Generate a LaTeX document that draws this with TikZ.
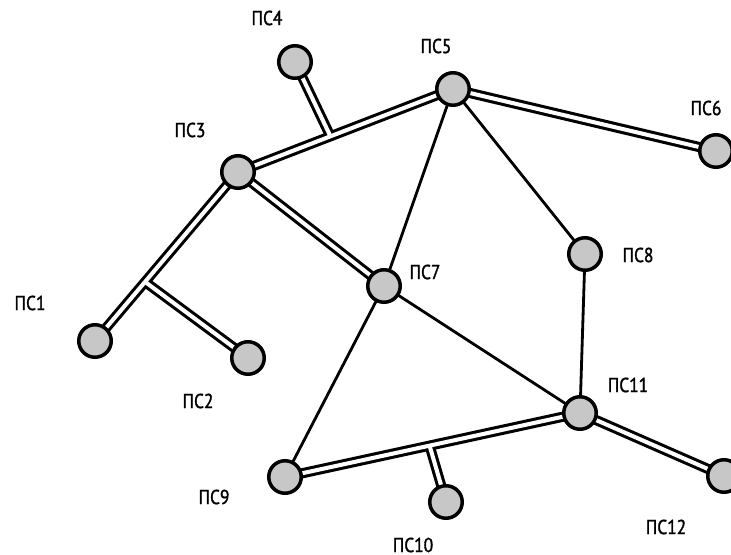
\documentclass[tikz,border=0pt]{standalone}
\usepackage{fontspec}
\setmainfont{PT Sans}[FakeStretch=0.86, FakeBold=1.5]
\usetikzlibrary{calc}

\tikzset{
  ps/.style={circle, draw=black, line width=2pt, fill=black!22, minimum size=18.5pt, inner sep=0pt},
  lbl/.style={font=\fontsize{11.5}{13}\selectfont, inner sep=0pt},
  link/.style={line width=1.6pt},
  cableout/.style={line width=5.8pt, black},
  cablein/.style={line width=2.3pt, white}
}

\begin{document}
\begin{tikzpicture}[x=0.02cm, y=-0.02cm]
  \useasboundingbox (0,0) rectangle (731,555);

  % substations
  \coordinate (p1) at (95,341);
  \coordinate (p2) at (248,358);
  \coordinate (p3) at (238,172);
  \coordinate (p4) at (295,62);
  \coordinate (p5) at (453,89);
  \coordinate (p6) at (716,151);
  \coordinate (p7) at (384,286);
  \coordinate (p8) at (585,254);
  \coordinate (p9) at (285,477);
  \coordinate (p10) at (446,502);
  \coordinate (p11) at (580,413);
  \coordinate (p12) at (724,476);

  % taps on the double lines
  \coordinate (t4) at ($(p3)!0.43!(p5)$);
  \coordinate (t2) at ($(p3)!0.65!(p1)$);
  \coordinate (t10) at ($(p9)!0.49!(p11)$);

  % single lines
  \foreach \a/\b in {p5/p7, p5/p8, p8/p11, p7/p11, p7/p9}
    \draw[link] (\a) -- (\b);

  % double lines
  \foreach \a/\b in {p3/p5, p4/t4, p3/p7, p3/p1, t2/p2, p5/p6, p9/p11, t10/p10, p11/p12}
    \draw[cableout] (\a) -- (\b);
  \foreach \a/\b in {p3/p5, p4/t4, p3/p7, p3/p1, t2/p2, p5/p6, p9/p11, t10/p10, p11/p12}
    \draw[cablein] (\a) -- (\b);

  \foreach \i in {1,...,12}
    \node[ps] (n\i) at (p\i) {};

  % labels
  \node[lbl] (l1) at (30,303) {ПС1};
  \node[lbl] (l2) at (198,401) {ПС2};
  \node[lbl] (l3) at (190,130) {ПС3};
  \node[lbl] (l4) at (267,18) {ПС4};
  \node[lbl] (l5) at (436,46) {ПС5};
  \node[lbl] (l6) at (706,108) {ПС6};
  \node[lbl] (l7) at (425,272) {ПС7};
  \node[lbl] (l8) at (638,255) {ПС8};
  \node[lbl] (l9) at (214,497) {ПС9};
  \node[lbl] (l10) at (413,545) {ПС10};
  \node[lbl] (l11) at (628,385) {ПС11};
  \node[lbl] (l12) at (666,527) {ПС12};
\end{tikzpicture}
\end{document}
